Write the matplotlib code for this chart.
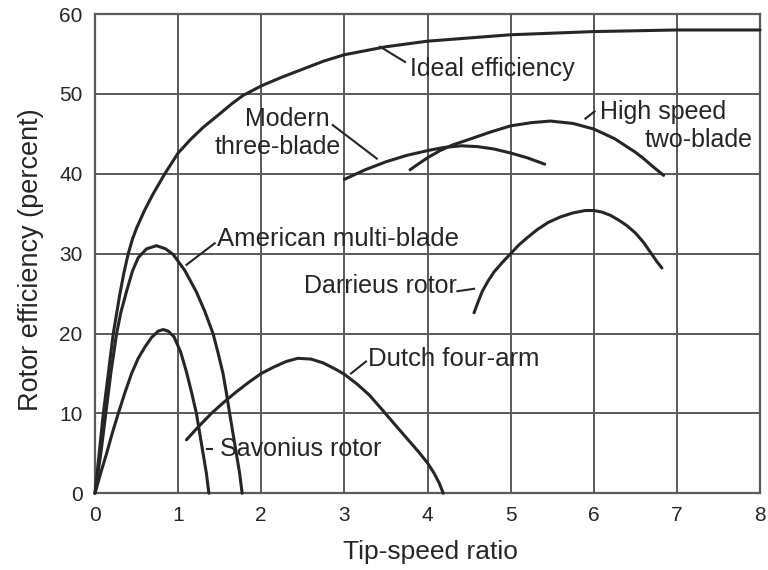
import matplotlib
matplotlib.use("Agg")
import matplotlib.pyplot as plt

plt.rcParams['font.family'] = ['Liberation Sans', 'DejaVu Sans']

# ---- data ----
ideal_x = [0, 0.05, 0.10, 0.16, 0.22, 0.30, 0.35, 0.40, 0.45, 0.50, 0.60, 0.70, 0.84, 1.0, 1.15, 1.3, 1.5, 1.65, 1.78,
           2.0, 2.25, 2.5, 2.75, 3.0, 3.5, 4.0, 4.5, 5.0, 5.5, 6.0, 7.0, 8.0]
ideal_y = [0, 5, 10, 15, 20, 25, 27.7, 30, 31.8, 33.2, 35.5, 37.5, 40, 42.6, 44.3, 45.8, 47.5, 48.8, 49.8,
           51.0, 52.1, 53.1, 54.1, 54.9, 55.9, 56.6, 57.0, 57.4, 57.6, 57.8, 58.0, 58.0]

american_x = [0, 0.07, 0.13, 0.19, 0.26, 0.31, 0.38, 0.45, 0.52, 0.62, 0.74, 0.85, 0.94, 1.08, 1.22,
              1.32, 1.42, 1.48, 1.54, 1.58, 1.62, 1.66, 1.70, 1.74, 1.77]
american_y = [0, 5, 10, 15, 20, 22.6, 25.3, 27.8, 29.5, 30.6, 31.0, 30.6, 29.9, 27.9, 25.2,
              22.8, 20, 17.6, 15, 12.6, 10, 7.5, 5, 2.5, 0]

savonius_x = [0, 0.07, 0.14, 0.21, 0.28, 0.36, 0.44, 0.52, 0.60, 0.68, 0.76, 0.82, 0.88, 0.95,
              1.03, 1.10, 1.16, 1.22, 1.26, 1.30, 1.34, 1.37]
savonius_y = [0, 2.6, 5, 7.6, 10, 12.6, 15, 16.9, 18.3, 19.5, 20.3, 20.5, 20.3, 19.6,
              17.7, 15.2, 12.7, 10, 7.5, 5, 2.5, 0]

dutch_x = [1.10, 1.25, 1.40, 1.55, 1.70, 1.85, 2.0, 2.15, 2.3, 2.44, 2.6, 2.75, 2.9, 3.0, 3.15,
           3.3, 3.46, 3.6, 3.75, 3.9, 4.0, 4.08, 4.14, 4.19]
dutch_y = [6.7, 8.4, 10.0, 11.4, 12.7, 13.9, 15.0, 15.8, 16.5, 16.9, 16.8, 16.3, 15.5, 14.9, 13.7,
           12.3, 10.4, 8.7, 6.9, 5.1, 3.8, 2.5, 1.3, 0]

modern_x = [3.0, 3.25, 3.5, 3.75, 4.0, 4.2, 4.41, 4.6, 4.8, 5.0, 5.2, 5.41]
modern_y = [39.3, 40.5, 41.5, 42.3, 42.9, 43.3, 43.5, 43.4, 43.1, 42.6, 42.0, 41.2]

highspeed_x = [3.79, 3.9, 4.0, 4.15, 4.3, 4.5, 4.75, 5.0, 5.25, 5.48, 5.75, 6.0, 6.25, 6.5, 6.6, 6.7, 6.84]
highspeed_y = [40.5, 41.3, 42.0, 42.9, 43.6, 44.3, 45.2, 46.0, 46.4, 46.6, 46.3, 45.6, 44.4, 42.7, 41.9, 41.0, 39.8]

darrieus_x = [4.56, 4.61, 4.66, 4.73, 4.8, 4.9, 5.0, 5.1, 5.2, 5.32, 5.45, 5.6, 5.75, 5.9, 6.0,
              6.1, 6.2, 6.3, 6.4, 6.5, 6.6, 6.7, 6.76, 6.82]
darrieus_y = [22.6, 24.0, 25.3, 26.6, 27.7, 28.9, 30.0, 31.1, 32.0, 33.0, 33.9, 34.6, 35.1, 35.4, 35.4,
              35.2, 34.8, 34.2, 33.5, 32.6, 31.4, 29.9, 29.0, 28.2]

x_ticks = [0, 1, 2, 3, 4, 5, 6, 7, 8]
y_ticks = [0, 10, 20, 30, 40, 50, 60]

# label text, anchor (x, y), horizontal alignment
labels = [
    ("Ideal efficiency", 3.79, 53.1, 'left'),
    ("Modern", 2.31, 46.8, 'center'),
    ("three-blade", 2.20, 43.3, 'center'),
    ("High speed", 6.07, 47.7, 'left'),
    ("two-blade", 7.91, 44.2, 'right'),
    ("American multi-blade", 1.47, 31.8, 'left'),
    ("Darrieus rotor", 2.52, 26.0, 'left'),
    ("Dutch four-arm", 3.285, 16.8, 'left'),
    ("Savonius rotor", 1.50, 5.6, 'left'),
]
# leader lines: (x0, x1), (y0, y1)
leaders = [
    ((3.43, 3.73), (55.9, 54.0)),
    ((2.86, 3.39), (46.1, 41.9)),
    ((5.90, 6.01), (46.9, 47.8)),
    ((1.10, 1.44), (28.6, 31.3)),
    ((4.36, 4.56), (25.3, 25.6)),
    ((3.08, 3.26), (15.0, 16.5)),
    ((1.35, 1.41), (5.6, 5.6)),
]

ink = '#262626'
grid_c = '#5a5a5a'

fig = plt.figure(figsize=(7.68, 5.70), dpi=100)
ax = fig.add_axes([95/768, 1-493.3/570, 665/768, 479.3/570])

ax.set_xlim(0, 8)
ax.set_ylim(0, 60)
ax.set_xticks(x_ticks)
ax.set_yticks(y_ticks)
ax.tick_params(length=0, labelsize=15, colors=ink, pad=9)
ax.grid(True, color=grid_c, linewidth=1.4)
ax.set_axisbelow(True)
for s in ax.spines.values():
    s.set_color(grid_c)
    s.set_linewidth(1.6)

curves = [(ideal_x, ideal_y), (american_x, american_y), (savonius_x, savonius_y),
          (dutch_x, dutch_y), (modern_x, modern_y), (highspeed_x, highspeed_y),
          (darrieus_x, darrieus_y)]
for cx, cy in curves:
    ax.plot(cx, cy, color=ink, linewidth=2.2, solid_capstyle='round',
            solid_joinstyle='round', clip_on=False, zorder=3)

for lx, ly in leaders:
    ax.plot(lx, ly, color=ink, linewidth=1.5, zorder=3)

for txt, tx, ty, ha in labels:
    fs = 18.5 if txt in ("American multi-blade", "Dutch four-arm") else 18
    ax.text(tx, ty, txt, ha=ha, va='center', fontsize=fs, color=ink, zorder=4)

fig.text(430/768, 1-552/570, "Tip-speed ratio", ha='center', va='center', fontsize=19, color=ink)
fig.text(31/768, 1-260/570, "Rotor efficiency (percent)", ha='center', va='center',
         rotation=90, fontsize=19.5, color=ink)

fig.savefig("out.png", dpi=100, facecolor='white')
